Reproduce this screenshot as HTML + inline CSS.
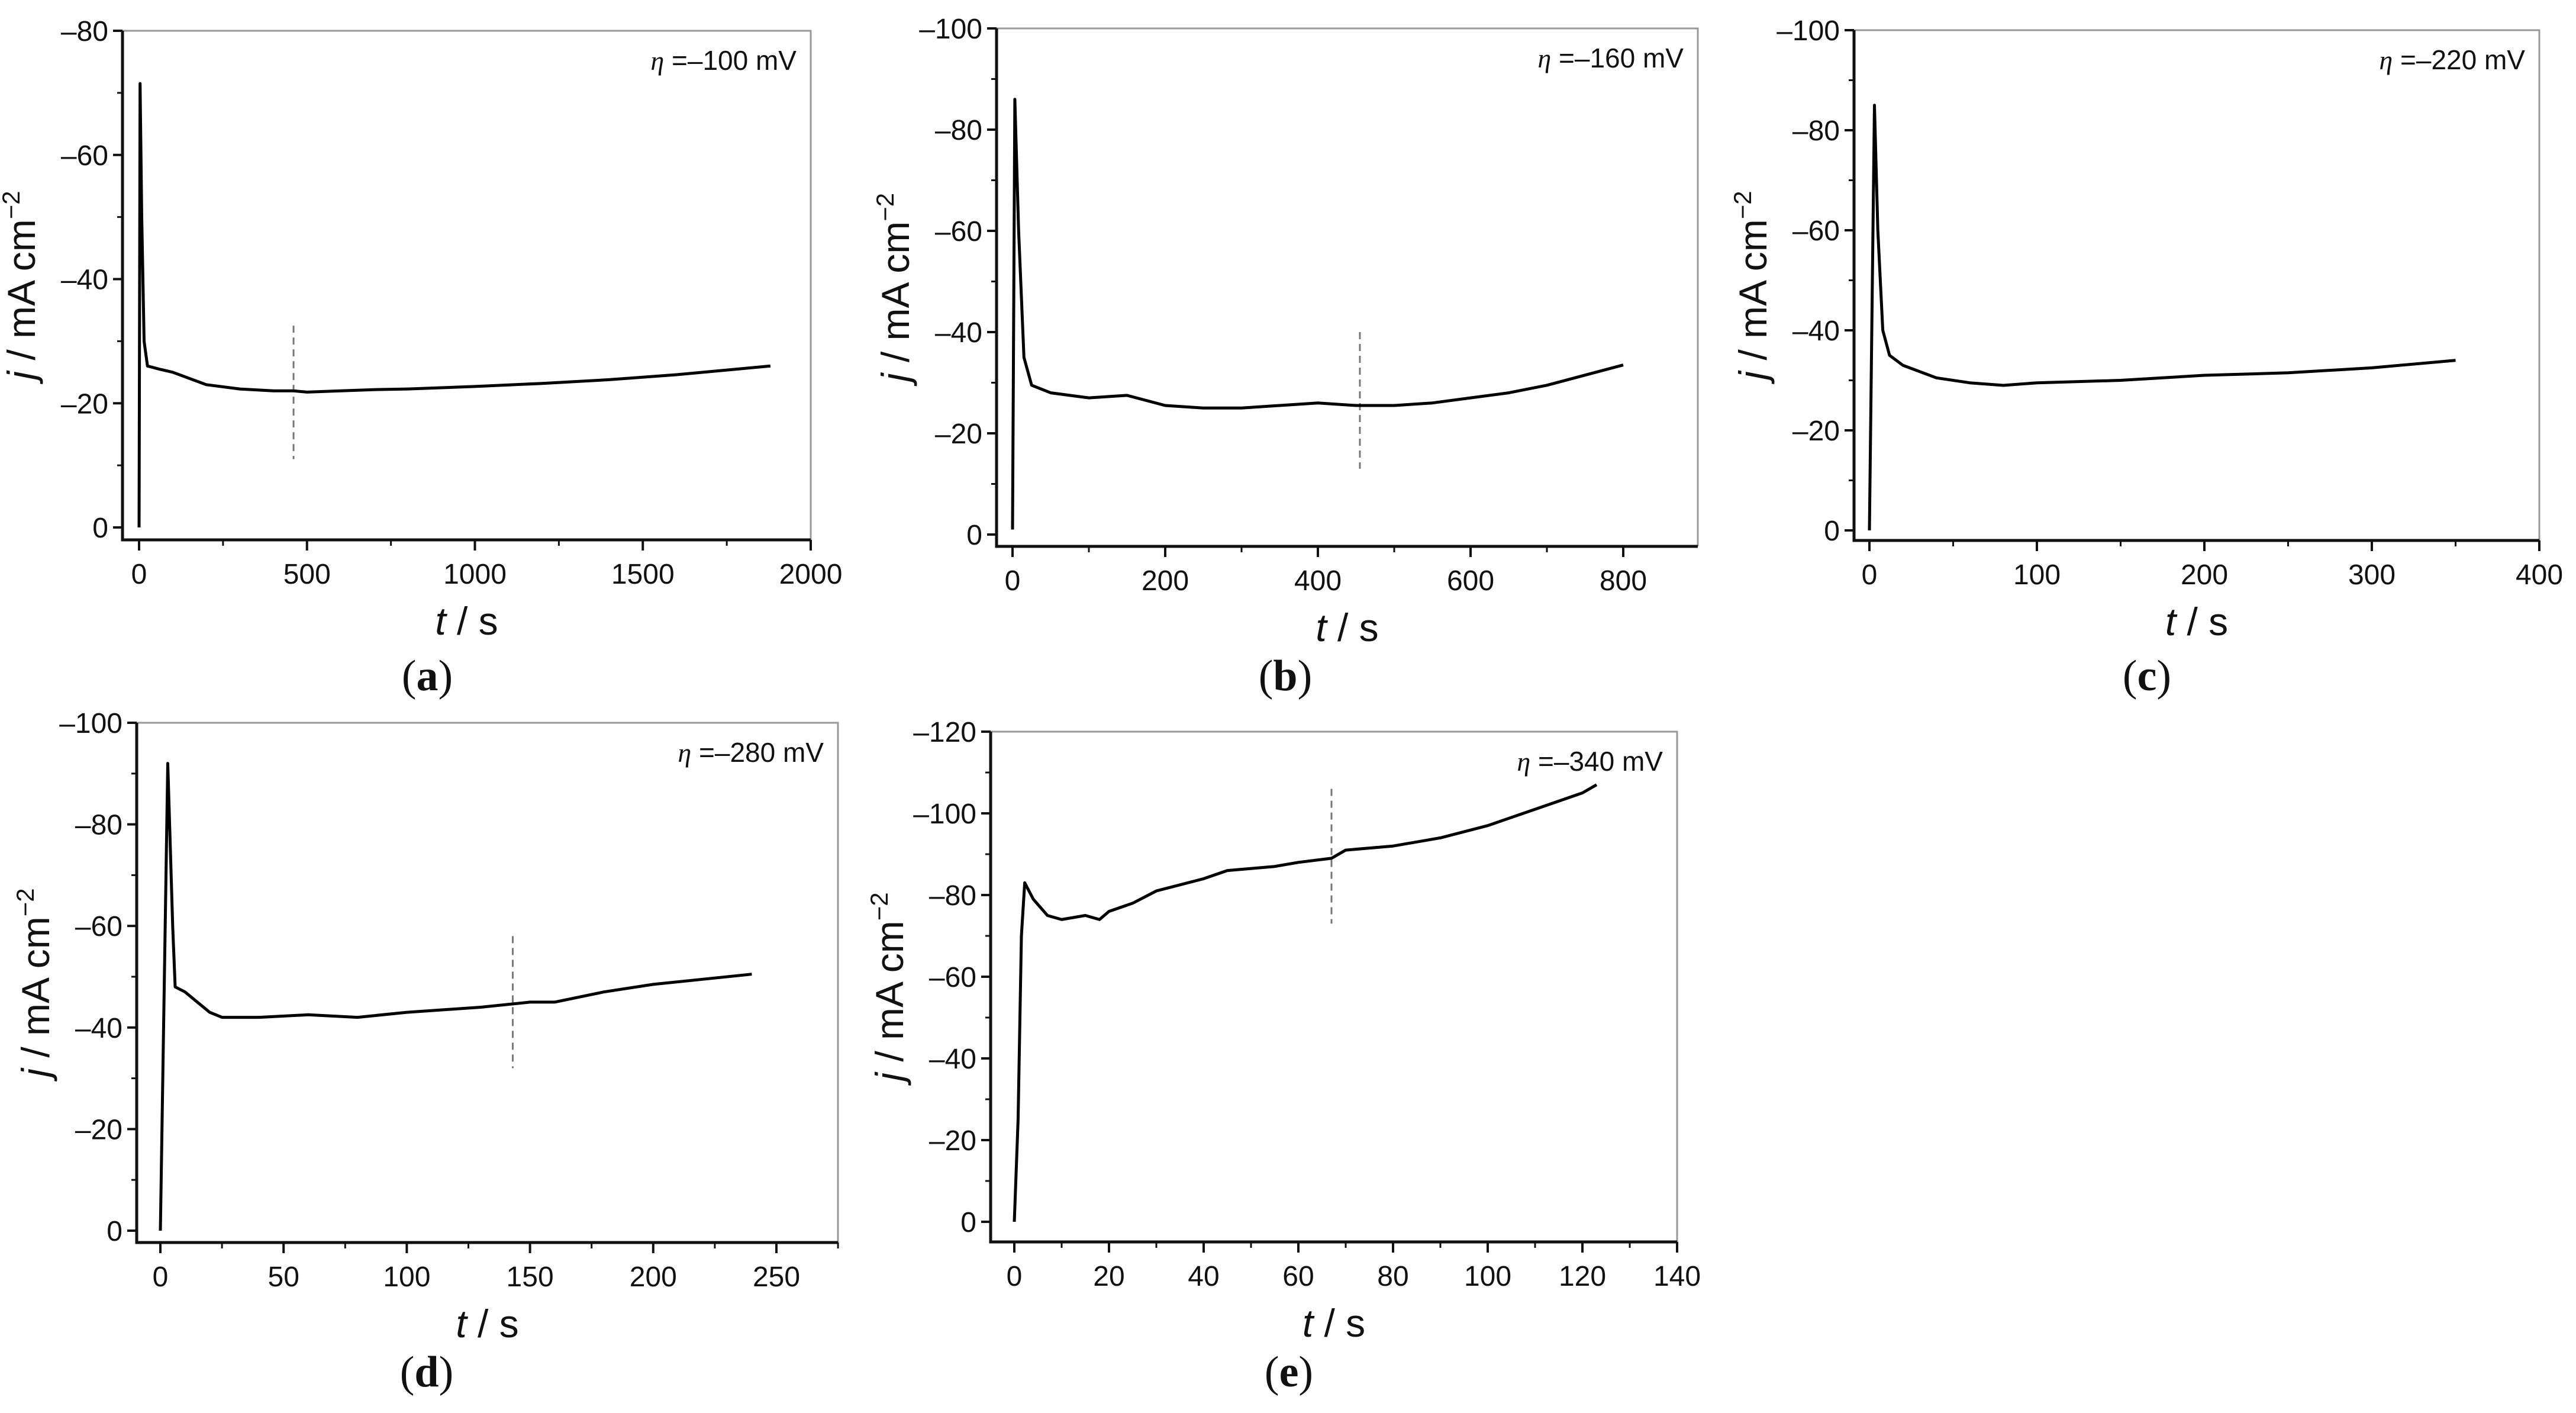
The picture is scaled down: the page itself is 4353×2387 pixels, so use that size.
<!DOCTYPE html>
<html><head><meta charset="utf-8">
<style>
html,body{margin:0;padding:0;background:#fff;}
svg{display:block;}
text{font-family:"Liberation Sans",sans-serif;fill:#111;}
.plab{font-family:"Liberation Serif",serif;font-size:74px;}
</style></head>
<body>
<svg id="fig" width="4353" height="2387" viewBox="0 0 4353 2387" xmlns="http://www.w3.org/2000/svg"></svg>
<script>
// ---- data (t in s, j in mA cm^-2) ----
const tA = [0,3,8,15,25,60,100,150,200,300,400,460,500,600,700,800,900,1000,1200,1400,1600,1800,1880];
const jA = [0,-71.5,-50,-30,-26,-25.5,-25,-24,-23,-22.3,-22,-22,-21.8,-22,-22.2,-22.3,-22.5,-22.7,-23.2,-23.8,-24.6,-25.6,-26];
const tB = [0,3,8,15,25,50,100,150,200,250,300,350,400,450,500,550,600,650,700,750,800];
const jB = [-1,-86,-60,-35,-29.5,-28,-27,-27.5,-25.5,-25,-25,-25.5,-26,-25.5,-25.5,-26,-27,-28,-29.5,-31.5,-33.5];
const tC = [0,3,5,8,12,20,40,60,80,100,150,200,250,300,350];
const jC = [0,-85,-60,-40,-35,-33,-30.5,-29.5,-29,-29.5,-30,-31,-31.5,-32.5,-34];
const tD = [0,3,5,6,10,15,20,25,40,60,80,100,130,150,160,180,200,220,240];
const jD = [0,-92,-60,-48,-47,-45,-43,-42,-42,-42.5,-42,-43,-44,-45,-45,-47,-48.5,-49.5,-50.5];
const tE = [0,0.8,1.5,2.2,4,7,10,15,18,20,25,30,40,45,55,60,67,70,80,90,100,110,120,123];
const jE = [0,-25,-70,-83,-79,-75,-74,-75,-74,-76,-78,-81,-84,-86,-87,-88,-89,-91,-92,-94,-97,-101,-105,-107];
const xTicksA = [0,500,1000,1500,2000];
const xTicksB = [0,200,400,600,800];
const xTicksC = [0,100,200,300,400];
const xTicksD = [0,50,100,150,200,250];
const xTicksE = [0,20,40,60,80,100,120,140];
const yTicksA = [0,-20,-40,-60,-80];
const yTicksB = [0,-20,-40,-60,-80,-100];
const yTicksE = [0,-20,-40,-60,-80,-100,-120];
const etaLabels = ["–100 mV","–160 mV","–220 mV","–280  mV","–340 mV"];
const markerT = [460,455,null,143,67];
const markerJ = [[-32.5,-11],[-40,-13],null,[-58,-32],[-106,-73]];

// ---- layout ----
const panels = [
 {id:'a',L:207,R:1370,T:52,B:912,x0:235,x1:1370,xv:2000,y0:891,y1:52,yv:-80,t:tA,j:jA,xt:xTicksA,yt:yTicksA,lab:[722,1142]},
 {id:'b',L:1684,R:2869,T:48,B:923,x0:1711,x1:2743,xv:800,y0:903,y1:48,yv:-100,t:tB,j:jB,xt:xTicksB,yt:yTicksB,lab:[2172,1142]},
 {id:'c',L:3133,R:4291,T:51,B:913,x0:3159,x1:4291,xv:400,y0:896,y1:51,yv:-100,t:tC,j:jC,xt:xTicksC,yt:yTicksB,lab:[3628,1142]},
 {id:'d',L:231,R:1416,T:1221,B:2099,x0:271,x1:1312,xv:250,y0:2079,y1:1221,yv:-100,t:tD,j:jD,xt:xTicksD,yt:yTicksB,lab:[721,2318]},
 {id:'e',L:1674,R:2834,T:1236,B:2098,x0:1714,x1:2834,xv:140,y0:2064,y1:1236,yv:-120,t:tE,j:jE,xt:xTicksE,yt:yTicksE,lab:[2178,2318]}
];
const NS='http://www.w3.org/2000/svg';
const svg=document.getElementById('fig');
function mk(tag,attrs,parent){const e=document.createElementNS(NS,tag);for(const k in attrs)e.setAttribute(k,attrs[k]);(parent||svg).appendChild(e);return e;}
panels.forEach((p,i)=>{
  const g=mk('g',{});
  
  
  const X=v=>p.x0+(v/p.xv)*(p.x1-p.x0);
  const Y=v=>p.y0+(v/p.yv)*(p.y1-p.y0);
  const fr=mk('path',{d:`M${p.L},${p.T} H${p.R} V${p.B}`,fill:'none',stroke:'#999',"stroke-width":3},g);
  
  
  const ax=mk('path',{d:`M${p.L},${p.T} V${p.B} H${p.R}`,fill:'none',stroke:'#111',"stroke-width":5},g);
  
  
  const dy=p.yt[1]-p.yt[0];
  p.yt.forEach((v,k)=>{
    const y=Y(v);
    mk('line',{x1:p.L-16,x2:p.L,y1:y,y2:y,stroke:'#111',"stroke-width":4},g);
    const t=mk('text',{x:p.L-24,y:y+17,"text-anchor":'end',"font-size":48},g);
    t.textContent=v===0?'0':'–'+Math.abs(v);
    
    
    if(k<p.yt.length-1){const ym=Y(v+dy/2);mk('line',{x1:p.L-9,x2:p.L,y1:ym,y2:ym,stroke:'#111',"stroke-width":3},g);}
  });
  const dx=p.xt[1]-p.xt[0];
  p.xt.forEach((v,k)=>{
    const x=X(v);
    mk('line',{x1:x,x2:x,y1:p.B,y2:p.B+18,stroke:'#111',"stroke-width":4},g);
    const t=mk('text',{x:x,y:p.B+74,"text-anchor":'middle',"font-size":48},g);
    t.textContent=String(v);
    
    
    const xm=X(v+dx/2);
    if(xm<p.R+1) mk('line',{x1:xm,x2:xm,y1:p.B,y2:p.B+10,stroke:'#111',"stroke-width":3},g);
  });
  const xt=mk('text',{x:(p.L+p.R)/2,y:p.B+160,"text-anchor":'middle',"font-size":66},g);
  xt.innerHTML='<tspan font-style="italic">t</tspan> / s';
  
  
  const cy=(p.T+p.B)/2, cx=p.L-148;
  const yt=mk('text',{x:cx,y:cy,"text-anchor":'middle',"font-size":66,transform:`rotate(-90 ${cx} ${cy})`},g);
  yt.innerHTML='<tspan font-style="italic">j</tspan> / mA cm<tspan dy="-26" font-size="42">−2</tspan>';
  
  
  const et=mk('text',{x:p.R-24,y:p.T+66,"text-anchor":'end',"font-size":46},g);
  et.innerHTML='<tspan font-style="italic" font-family="Liberation Serif">η</tspan> ='+etaLabels[i];
  
  
  if(markerT[i]!==null){
    const m=mk('line',{x1:X(markerT[i]),x2:X(markerT[i]),y1:Y(markerJ[i][0]),y2:Y(markerJ[i][1]),stroke:'#777',"stroke-width":3,"stroke-dasharray":'12,8'},g);
    
    
  }
  let d='';
  p.t.forEach((tv,k)=>{d+=(k?'L':'M')+X(tv).toFixed(1)+','+Y(p.j[k]).toFixed(1)+' ';});
  const s=mk('path',{d:d,fill:'none',stroke:'#000',"stroke-width":5,"stroke-linejoin":'round'},g);
  
  
  const pl=mk('text',{x:p.lab[0],y:p.lab[1]+24,"text-anchor":'middle',class:'plab'},g);
  pl.innerHTML='(<tspan font-weight="bold">'+p.id+'</tspan>)';
  
  
});
</script>
</body></html>
